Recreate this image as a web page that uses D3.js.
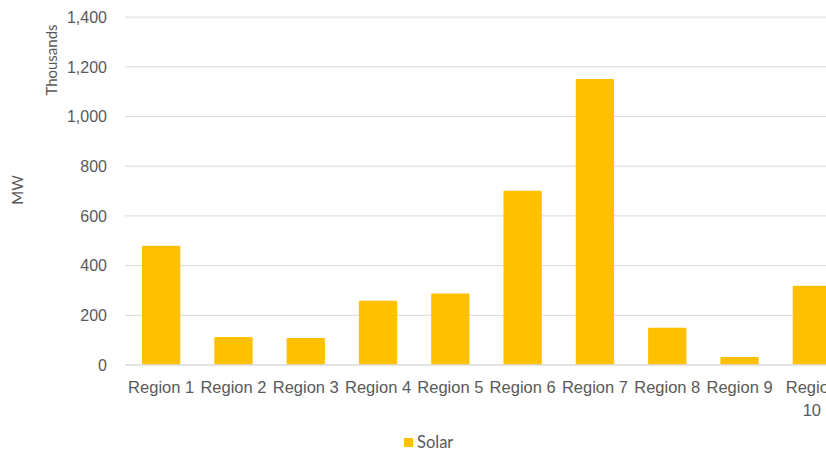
<!DOCTYPE html>
<html>
<head>
<meta charset="utf-8">
<script src="https://cdn.jsdelivr.net/npm/d3@7"></script>
<style>
  html, body { margin: 0; padding: 0; background: #fff; }
  svg { display: block; font-family: Lato, "Open Sans", sans-serif; }
</style>
</head>
<body>
<svg id="chart" width="826" height="452"></svg>
<script>
// Solar capacity by region (MW, in thousands)
const regions = ["Region 1", "Region 2", "Region 3", "Region 4", "Region 5",
                 "Region 6", "Region 7", "Region 8", "Region 9", "Region 10"];
const solar = [478, 111, 107, 257, 286, 699, 1149, 148, 30, 317];
const yTicks = [0, 200, 400, 600, 800, 1000, 1200, 1400];
const seriesName = "Solar";

const textColor = "#595959";
const gridColor = "#d9d9d9";
const barColor = "#FFC000";

const svg = d3.select("#chart");

const x = d3.scaleBand()
  .domain(regions)
  .range([125, 848])
  .paddingInner(0.47)
  .paddingOuter(0.235);

const y = d3.scaleLinear()
  .domain([0, 1400])
  .range([364.5, 16.6]);

// horizontal gridlines with tick labels
const yAxis = d3.axisLeft(y)
  .tickValues(yTicks)
  .tickFormat(d3.format(","))
  .tickSize(-(848 - 125))
  .tickPadding(18);

const gy = svg.append("g")
  .attr("transform", "translate(125,0)")
  .call(yAxis);
gy.select(".domain").remove();
gy.selectAll(".tick line").attr("stroke", gridColor).attr("stroke-width", 1);
gy.selectAll(".tick text")
  .attr("fill", textColor)
  .attr("font-size", 16)
  .attr("dy", "0.36em");

// bars
svg.append("g")
  .selectAll("rect")
  .data(regions.map((r, i) => ({ region: r, value: solar[i] })))
  .join("rect")
  .attr("x", d => x(d.region))
  .attr("width", x.bandwidth())
  .attr("y", d => y(d.value))
  .attr("height", d => y(0) - y(d.value))
  .attr("rx", 1)
  .attr("fill", barColor);

// category axis
const xAxis = d3.axisBottom(x).tickSize(0).tickPadding(0);
const gx = svg.append("g")
  .attr("transform", `translate(0,${y(0)})`)
  .call(xAxis);
gx.select(".domain").attr("stroke", gridColor);
gx.selectAll(".tick text")
  .attr("fill", textColor)
  .attr("font-size", 16.5)
  .attr("y", 28.5)
  .attr("dy", 0)
  .each(function () {
    const t = d3.select(this);
    const label = t.text();
    if (this.getComputedTextLength() > x.step() * 0.92) {
      const words = label.split(" ");
      t.text(null);
      words.forEach((w, i) => {
        t.append("tspan")
          .attr("x", 0)
          .attr("dy", i === 0 ? 0 : 23)
          .text(w);
      });
    }
  });

// axis titles
svg.append("text")
  .attr("transform", "translate(57,60) rotate(-90)")
  .attr("text-anchor", "middle")
  .attr("fill", textColor)
  .attr("font-size", 15)
  .text("Thousands");

svg.append("text")
  .attr("transform", "translate(23,190) rotate(-90)")
  .attr("text-anchor", "middle")
  .attr("fill", textColor)
  .attr("font-size", 15)
  .text("MW");

// legend
const legend = svg.append("g").attr("transform", "translate(404,438)");
legend.append("rect")
  .attr("width", 9).attr("height", 9)
  .attr("fill", barColor);
legend.append("text")
  .attr("x", 13).attr("y", 9.5)
  .attr("fill", textColor)
  .attr("font-size", 16.5)
  .text(seriesName);
</script>
</body>
</html>
